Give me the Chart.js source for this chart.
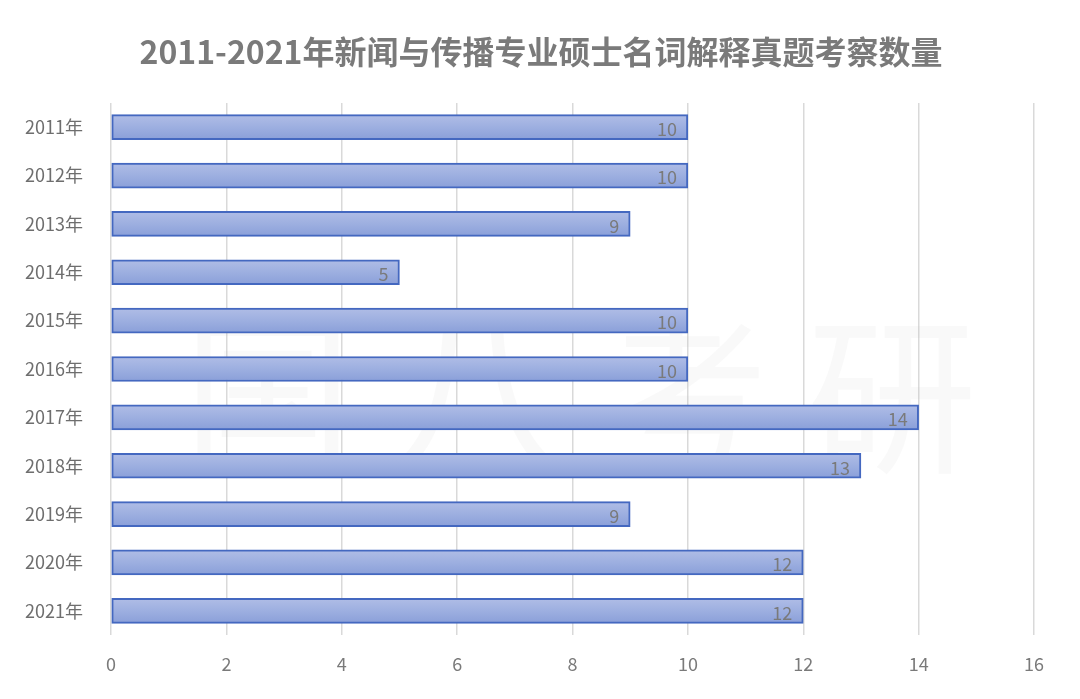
<!DOCTYPE html>
<html>
<head>
<meta charset="utf-8">
<script src="https://cdn.jsdelivr.net/npm/chart.js@4/dist/chart.umd.min.js"></script>
<style>
  html, body { margin: 0; padding: 0; background: #fff; }
  #wrap { width: 1080px; height: 699px; }
</style>
</head>
<body>
<div id="wrap"><canvas id="qChart" width="1080" height="699"></canvas></div>
<script>
var years = ['2011年', '2012年', '2013年', '2014年', '2015年', '2016年', '2017年', '2018年', '2019年', '2020年', '2021年'];
var counts = [10, 10, 9, 5, 10, 10, 14, 13, 9, 12, 12];
var xTicks = [0, 2, 4, 6, 8, 10, 12, 14, 16];
var titleText = '2011-2021年新闻与传播专业硕士名词解释真题考察数量';

var FONT = '"Noto Sans CJK SC", "Noto Sans", sans-serif';

// title centred on the whole picture, not just the padded area
var pageTitle = {
  id: 'pageTitle',
  afterDraw: function(chart) {
    var ctx = chart.ctx;
    ctx.save();
    ctx.font = 'bold 32px ' + FONT;
    ctx.fillStyle = '#7a7a7a';
    ctx.textAlign = 'center';
    ctx.textBaseline = 'middle';
    ctx.fillText(titleText, chart.width / 2 + 1, 52);
    ctx.restore();
  }
};

// value labels drawn near the end of each bar
var valueLabels = {
  id: 'valueLabels',
  afterDatasetsDraw: function(chart) {
    var ctx = chart.ctx;
    var meta = chart.getDatasetMeta(0);
    ctx.save();
    ctx.font = '18px ' + FONT;
    ctx.fillStyle = '#7a7a7a';
    ctx.textAlign = 'right';
    ctx.textBaseline = 'middle';
    meta.data.forEach(function(bar, i) {
      ctx.fillText(String(counts[i]), bar.x - 11, bar.y + 2);
    });
    ctx.restore();
  }
};

// faint watermark behind the bars
var watermark = {
  id: 'watermark',
  beforeDatasetsDraw: function(chart) {
    var ctx = chart.ctx;
    ctx.save();
    ctx.font = '170px ' + FONT;
    ctx.fillStyle = 'rgba(200, 200, 200, 0.10)';
    ctx.textAlign = 'center';
    ctx.textBaseline = 'middle';
    ctx.fillText('国 八 考 研', 580, 395);
    ctx.restore();
  }
};

var qChart = document.getElementById('qChart').getContext('2d');
var chart = new Chart(qChart, {
    type: 'bar',
    data: {
        labels: years,
        datasets: [{
            label: '考察数量',
            data: counts,
            barThickness: 25,
            borderWidth: 2,
            borderSkipped: false,
            borderColor: '#4468c0',
            backgroundColor: function(context) {
                var c = context.chart;
                var y = c.scales && c.scales.y;
                if (!y || context.dataIndex === undefined) return '#9badde';
                var cy = y.getPixelForValue(context.dataIndex);
                if (!isFinite(cy)) return '#9badde';
                var g = c.ctx.createLinearGradient(0, cy - 12.5, 0, cy + 12.5);
                g.addColorStop(0, '#b0bde6');
                g.addColorStop(0.5, '#9dafe0');
                g.addColorStop(1, '#8a9fd9');
                return g;
            }
        }]
    },
    options: {
      indexAxis: 'y',
      responsive: false,
      animation: false,
      layout: { padding: { left: 0, right: 46, top: 103, bottom: 0 } },
      plugins: {
        legend: { display: false },
        tooltip: { enabled: false },
        title: { display: false }
      },
      scales: {
        x: {
          min: 0,
          max: 16,
          afterBuildTicks: function(axis) {
            axis.ticks = xTicks.map(function(v) { return { value: v }; });
          },
          afterFit: function(axis) { axis.height = 64; },
          grid: { color: '#d9d9d9', lineWidth: 1.5, drawTicks: false },
          border: { display: false },
          ticks: {
            color: '#7a7a7a',
            padding: 18,
            font: { family: FONT, size: 18 }
          }
        },
        y: {
          afterFit: function(axis) { axis.width = 111; },
          grid: { display: false },
          border: { display: false },
          ticks: {
            color: '#6e6e6e',
            padding: 20,
            font: { family: FONT, size: 18 }
          }
        }
      }
    },
    plugins: [watermark, valueLabels, pageTitle]
});
</script>
</body>
</html>
